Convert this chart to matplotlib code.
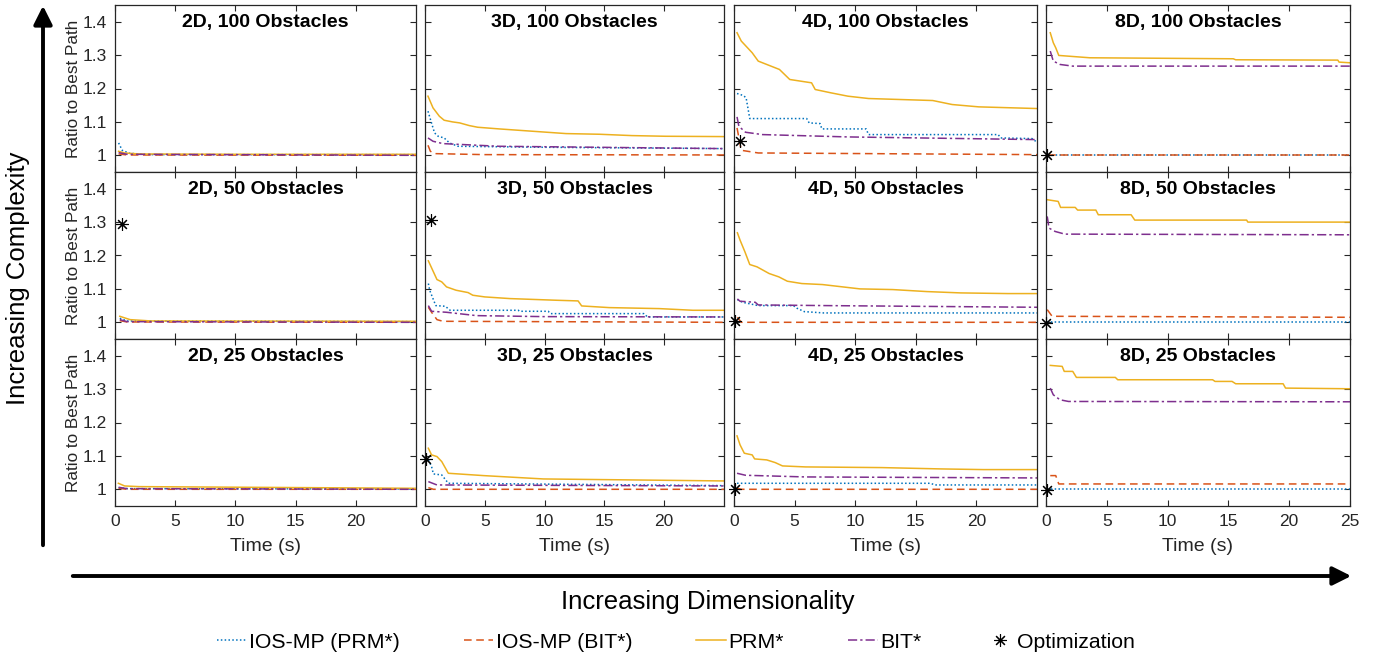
import matplotlib
matplotlib.use("Agg")
import matplotlib.pyplot as plt
from matplotlib.lines import Line2D
from matplotlib.patches import FancyArrowPatch

plt.rcParams['font.family'] = ['Liberation Sans', 'DejaVu Sans']

# ---------------- data ----------------
dims = ["2D", "3D", "4D", "8D"]
obstacles = [100, 50, 25]
xticks = [0, 5, 10, 15, 20, 25]
yticks = [1, 1.1, 1.2, 1.3, 1.4]
ytick_labels = ["1", "1.1", "1.2", "1.3", "1.4"]
legend_labels = ["IOS-MP (PRM*)", "IOS-MP (BIT*)", "PRM*", "BIT*", "Optimization"]

# ---- 100 obstacles ----
ios_prm_2d_100 = [(0.3, 1.037), (0.6, 1.015), (1.2, 1.006), (3, 1.002), (25, 1.002)]
ios_bit_2d_100 = [(0.3, 1.004), (1, 1.001), (25, 1.0)]
prm_2d_100 = [(0.3, 1.012), (0.8, 1.007), (2, 1.004), (10, 1.003), (25, 1.003)]
bit_2d_100 = [(0.3, 1.008), (1, 1.003), (25, 1.0)]
opt_2d_100 = []

ios_prm_3d_100 = [(0.25, 1.132), (0.5, 1.102), (0.8, 1.067), (1.1, 1.057), (1.6, 1.052),
                  (2.05, 1.037), (2.75, 1.027), (10, 1.024), (25, 1.02)]
ios_bit_3d_100 = [(0.25, 1.03), (0.45, 1.012), (0.8, 1.005), (5, 1.002), (25, 1.001)]
prm_3d_100 = [(0.25, 1.177), (0.67, 1.142), (1.2, 1.117), (1.6, 1.105), (2.3, 1.1), (2.9, 1.097),
              (3.7, 1.089), (4.4, 1.084), (6.2, 1.079), (9, 1.072), (11.8, 1.065), (14.6, 1.063),
              (17.3, 1.059), (20.1, 1.057), (25, 1.056)]
bit_3d_100 = [(0.25, 1.052), (0.67, 1.042), (1.5, 1.035), (6.2, 1.027), (11.8, 1.025), (25, 1.02)]
opt_3d_100 = []

ios_prm_4d_100 = [(0.25, 1.185), (0.77, 1.179), (1.0, 1.172), (1.3, 1.11), (6.0, 1.11), (6.2, 1.097),
                  (7.1, 1.095), (7.25, 1.079), (10.9, 1.079), (11.1, 1.062), (21.8, 1.062),
                  (22.0, 1.052), (24.6, 1.05), (25, 1.039)]
ios_bit_4d_100 = [(0.25, 1.082), (0.6, 1.015), (2.0, 1.007), (25, 1.002)]
prm_4d_100 = [(0.25, 1.367), (0.6, 1.342), (1.5, 1.307), (2.0, 1.282), (2.35, 1.277), (3.05, 1.267),
              (3.75, 1.257), (4.6, 1.227), (6.4, 1.217), (6.7, 1.197), (8.0, 1.187), (9.4, 1.177),
              (11.1, 1.17), (16.4, 1.164), (18.0, 1.152), (20.2, 1.145), (25, 1.14)]
bit_4d_100 = [(0.25, 1.115), (0.4, 1.087), (0.95, 1.069), (2.35, 1.062), (9.4, 1.055), (25, 1.047)]
opt_4d_100 = [(0.5, 1.042)]

ios_prm_8d_100 = [(0.2, 1.002), (25, 1.002)]
ios_bit_8d_100 = [(0.2, 1.0), (25, 1.0)]
prm_8d_100 = [(0.35, 1.367), (0.6, 1.337), (0.8, 1.322), (1.05, 1.299), (3.6, 1.292), (15.4, 1.289),
              (15.6, 1.286), (24.0, 1.285), (24.1, 1.279), (25, 1.277)]
bit_8d_100 = [(0.35, 1.312), (0.6, 1.282), (1.15, 1.272), (2.2, 1.267), (25, 1.267)]
opt_8d_100 = [(0.1, 1.0)]

# ---- 50 obstacles ----
ios_prm_2d_50 = [(0.4, 1.012), (1, 1.004), (25, 1.002)]
ios_bit_2d_50 = [(0.4, 1.005), (1, 1.001), (25, 1.0)]
prm_2d_50 = [(0.4, 1.018), (1.25, 1.008), (3, 1.004), (25, 1.003)]
bit_2d_50 = [(0.4, 1.008), (1, 1.002), (25, 1.0)]
opt_2d_50 = [(0.55, 1.293)]

ios_prm_3d_50 = [(0.28, 1.116), (0.4, 1.095), (0.9, 1.05), (1.7, 1.048), (2.1, 1.036), (7.8, 1.036),
                 (7.9, 1.033), (10.3, 1.033), (10.5, 1.026), (18.3, 1.026), (18.6, 1.016), (25, 1.016)]
ios_bit_3d_50 = [(0.28, 1.045), (0.55, 1.03), (1.0, 1.008), (1.5, 1.003), (25, 1.0)]
prm_3d_50 = [(0.28, 1.184), (1.0, 1.128), (1.4, 1.121), (1.8, 1.106), (2.6, 1.096), (3.6, 1.089),
             (4.0, 1.081), (5.0, 1.076), (7.1, 1.071), (11.0, 1.066), (12.8, 1.064), (13.1, 1.049),
             (15.4, 1.044), (19.6, 1.041), (22.4, 1.036), (25, 1.036)]
bit_3d_50 = [(0.28, 1.05), (0.55, 1.033), (1.8, 1.03), (4.3, 1.02), (9.9, 1.017), (25, 1.016)]
opt_3d_50 = [(0.5, 1.305)]

ios_prm_4d_50 = [(0.28, 1.068), (0.7, 1.06), (2.0, 1.05), (4.9, 1.05), (5.2, 1.042), (5.8, 1.032),
                 (7.4, 1.028), (25, 1.028)]
ios_bit_4d_50 = [(0.28, 1.015), (0.6, 1.0), (25, 1.0)]
prm_4d_50 = [(0.28, 1.268), (0.5, 1.246), (0.9, 1.211), (1.3, 1.173), (1.9, 1.166), (2.9, 1.146),
             (3.7, 1.136), (4.4, 1.123), (5.6, 1.116), (7.3, 1.113), (10.4, 1.1), (13.1, 1.098),
             (15.9, 1.092), (18.7, 1.088), (22.6, 1.086), (25, 1.086)]
bit_4d_50 = [(0.28, 1.07), (0.5, 1.063), (1.75, 1.06), (2.0, 1.052), (7.6, 1.05), (25, 1.045)]
opt_4d_50 = [(0.1, 1.005)]

ios_prm_8d_50 = [(0.1, 1.0), (25, 1.0)]
ios_bit_8d_50 = [(0.1, 1.038), (0.5, 1.018), (25, 1.015)]
prm_8d_50 = [(0.1, 1.367), (1.0, 1.362), (1.2, 1.344), (2.4, 1.344), (2.6, 1.336), (4.1, 1.336),
             (4.3, 1.322), (7.0, 1.322), (7.3, 1.306), (16.5, 1.306), (16.6, 1.3), (25, 1.3)]
bit_8d_50 = [(0.1, 1.317), (0.25, 1.282), (0.75, 1.272), (1.55, 1.264), (25, 1.262)]
opt_8d_50 = [(0.0, 0.998)]

# ---- 25 obstacles ----
ios_prm_2d_25 = [(0.3, 1.005), (1, 1.002), (25, 1.001)]
ios_bit_2d_25 = [(0.3, 1.003), (1, 1.0), (25, 1.0)]
prm_2d_25 = [(0.28, 1.018), (0.8, 1.01), (2, 1.008), (25, 1.003)]
bit_2d_25 = [(0.3, 1.006), (1, 1.002), (25, 1.0)]
opt_2d_25 = []

ios_prm_3d_25 = [(0.28, 1.088), (0.55, 1.068), (0.7, 1.046), (1.4, 1.043), (1.95, 1.018), (25, 1.011)]
ios_bit_3d_25 = [(0.28, 1.005), (0.7, 1.0), (25, 1.0)]
prm_3d_25 = [(0.28, 1.123), (0.55, 1.103), (1.0, 1.098), (1.4, 1.083), (1.95, 1.048), (4.9, 1.041),
             (9.9, 1.031), (25, 1.025)]
bit_3d_25 = [(0.28, 1.023), (1.0, 1.013), (25, 1.01)]
opt_3d_25 = [(0.1, 1.09)]

ios_prm_4d_25 = [(0.25, 1.018), (16.2, 1.018), (16.6, 1.013), (25, 1.013)]
ios_bit_4d_25 = [(0.25, 1.003), (0.6, 1.0), (25, 1.0)]
prm_4d_25 = [(0.25, 1.16), (0.5, 1.133), (0.85, 1.108), (1.5, 1.103), (1.7, 1.091), (2.7, 1.088),
             (3.4, 1.08), (4.0, 1.07), (5.9, 1.067), (12.2, 1.065), (17.1, 1.061), (20.6, 1.059),
             (25, 1.059)]
bit_4d_25 = [(0.25, 1.048), (0.95, 1.042), (5.9, 1.037), (25, 1.034)]
opt_4d_25 = [(0.07, 1.0)]

ios_prm_8d_25 = [(0.05, 1.0), (25, 1.0)]
ios_bit_8d_25 = [(0.35, 1.041), (0.8, 1.041), (1.05, 1.016), (25, 1.016)]
prm_8d_25 = [(0.35, 1.371), (1.33, 1.368), (1.5, 1.353), (2.2, 1.353), (2.5, 1.335), (5.7, 1.335),
             (5.9, 1.328), (13.7, 1.328), (13.9, 1.323), (15.3, 1.323), (15.6, 1.316), (19.5, 1.316),
             (19.7, 1.303), (25, 1.301)]
bit_8d_25 = [(0.35, 1.303), (0.6, 1.283), (1.15, 1.268), (1.85, 1.263), (25, 1.262)]
opt_8d_25 = [(0.05, 0.998)]

panels = {
    (0, 0): (ios_prm_2d_100, ios_bit_2d_100, prm_2d_100, bit_2d_100, opt_2d_100),
    (0, 1): (ios_prm_3d_100, ios_bit_3d_100, prm_3d_100, bit_3d_100, opt_3d_100),
    (0, 2): (ios_prm_4d_100, ios_bit_4d_100, prm_4d_100, bit_4d_100, opt_4d_100),
    (0, 3): (ios_prm_8d_100, ios_bit_8d_100, prm_8d_100, bit_8d_100, opt_8d_100),
    (1, 0): (ios_prm_2d_50, ios_bit_2d_50, prm_2d_50, bit_2d_50, opt_2d_50),
    (1, 1): (ios_prm_3d_50, ios_bit_3d_50, prm_3d_50, bit_3d_50, opt_3d_50),
    (1, 2): (ios_prm_4d_50, ios_bit_4d_50, prm_4d_50, bit_4d_50, opt_4d_50),
    (1, 3): (ios_prm_8d_50, ios_bit_8d_50, prm_8d_50, bit_8d_50, opt_8d_50),
    (2, 0): (ios_prm_2d_25, ios_bit_2d_25, prm_2d_25, bit_2d_25, opt_2d_25),
    (2, 1): (ios_prm_3d_25, ios_bit_3d_25, prm_3d_25, bit_3d_25, opt_3d_25),
    (2, 2): (ios_prm_4d_25, ios_bit_4d_25, prm_4d_25, bit_4d_25, opt_4d_25),
    (2, 3): (ios_prm_8d_25, ios_bit_8d_25, prm_8d_25, bit_8d_25, opt_8d_25),
}

# ---------------- style ----------------
W, H = 1379, 658
C_BLUE = "#0072BD"
C_RED = "#D95319"
C_YEL = "#EDB120"
C_PUR = "#7E2F8E"
AX_COL = "#262626"
styles = [
    dict(color=C_BLUE, ls=(0, (1, 1.5)), lw=1.1),
    dict(color=C_RED, ls=(0, (5, 3)), lw=1.1),
    dict(color=C_YEL, ls="-", lw=1.1),
    dict(color=C_PUR, ls=(0, (6, 2, 1.5, 2)), lw=1.1),
]
STAR = (8, 2, 0)

col_px = [(115, 416), (425, 724), (734, 1037), (1046, 1350)]
row_top = [5, 172, 339]
row_h = 167

fig = plt.figure(figsize=(W / 100, H / 100), dpi=100)

for r in range(3):
    for c in range(4):
        x0, x1 = col_px[c]
        top = row_top[r]
        ax = fig.add_axes([x0 / W, 1 - (top + row_h) / H, (x1 - x0) / W, row_h / H])
        series = panels[(r, c)]
        for s, st in zip(series[:4], styles):
            ts = [p[0] for p in s]
            vs = [p[1] for p in s]
            ax.plot(ts, vs, **st, clip_on=True)
        opt = series[4]
        if opt:
            ax.plot([p[0] for p in opt], [p[1] for p in opt], ls="none", marker=STAR,
                    ms=9, mew=0.8, color="k", clip_on=False, zorder=5)
        ax.set_xlim(0, 25)
        ax.set_ylim(0.95, 1.45)
        ax.set_yticks(yticks)
        if c == 0:
            ax.set_yticklabels(ytick_labels)
            ax.set_ylabel("Ratio to Best Path", fontsize=12.3, color=AX_COL, labelpad=1)
        else:
            ax.set_yticklabels([])
        if c == 3:
            ax.set_xticks(xticks)
        else:
            ax.set_xticks(xticks[:-1])
        if r == 2:
            ax.set_xlabel("Time (s)", fontsize=14, color=AX_COL, labelpad=6)
        else:
            ax.set_xticklabels([])
        ax.tick_params(direction="in", top=True, right=True, length=4.5, width=0.8,
                       colors=AX_COL, labelsize=12.5, pad=6)
        for sp in ax.spines.values():
            sp.set_color(AX_COL)
            sp.set_linewidth(0.9)
        ax.set_title(f"{dims[c]}, {obstacles[r]} Obstacles", fontsize=14, fontweight="bold",
                     y=1.0, pad=-16, color="k")

# arrows and labels
fig.add_artist(FancyArrowPatch(
    (43, H - 548), (43, H - 3), transform=None, arrowstyle="-|>", mutation_scale=28,
    lw=2.8, color="k"))
fig.add_artist(FancyArrowPatch(
    (70, H - 576), (1354, H - 576), transform=None, arrowstyle="-|>", mutation_scale=28,
    lw=2.8, color="k"))
fig.text(18 / W, 1 - 278 / H, "Increasing Complexity", rotation=90, ha="center", va="center",
         fontsize=18.5, color="k")
fig.text(708 / W, 1 - 602 / H, "Increasing Dimensionality", ha="center", va="center",
         fontsize=18.5, color="k")

handles = [Line2D([], [], **styles[0]), Line2D([], [], **styles[1]), Line2D([], [], **styles[2]),
           Line2D([], [], **styles[3]),
           Line2D([], [], ls="none", marker=STAR, ms=9, mew=0.8, color="k")]
fig.legend(handles, legend_labels, loc="center", bbox_to_anchor=(676 / W, 1 - 642 / H),
           ncol=5, frameon=False, fontsize=15.3, handlelength=1.4, handletextpad=0.12,
           columnspacing=3.0)

fig.savefig("out.png", dpi=100)
